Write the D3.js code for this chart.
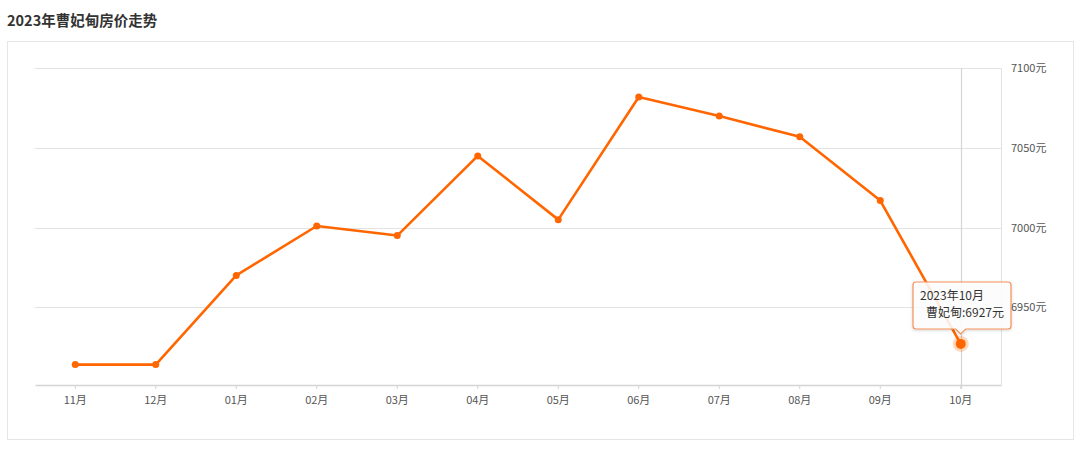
<!DOCTYPE html>
<html>
<head>
<meta charset="utf-8">
<script src="https://cdn.jsdelivr.net/npm/d3@7"></script>
<style>
  html, body { margin: 0; padding: 0; background: #fff; }
  svg { display: block; font-family: "Noto Sans CJK SC", "Noto Sans", sans-serif; }
</style>
</head>
<body>
<svg id="chart" width="1080" height="450"></svg>
<script>
const title = "2023年曹妃甸房价走势";
const seriesName = "曹妃甸";
const months = ["11月","12月","01月","02月","03月","04月","05月","06月","07月","08月","09月","10月"];
const prices = [6914, 6914, 6970, 7001, 6995, 7045, 7005, 7082, 7070, 7057, 7017, 6927];
const yTicks = [6950, 7000, 7050, 7100];
const tooltipTitle = "2023年10月";
const highlightIndex = 11;

(function () {
const svg = d3.select("#chart");
const orange = "#ff6600";

svg.append("text").attr("x", 7).attr("y", 26)
  .attr("font-size", 14.5).attr("font-weight", "bold").attr("fill", "#333")
  .text(title);

svg.append("rect").attr("x", 7.5).attr("y", 41.5).attr("width", 1066).attr("height", 398)
  .attr("fill", "#fff").attr("stroke", "#e6e6e6");

const gLeft = 35, gRight = 1001, gTop = 68.3, gBottom = 385;
const x = d3.scaleBand().domain(months).range([gLeft, gRight]);
const y = d3.scaleLinear().domain([6901.2, 7100]).range([gBottom, gTop]);
const cx = i => x(months[i]) + x.bandwidth() / 2;

svg.append("g").selectAll("line").data(yTicks).join("line")
  .attr("x1", gLeft).attr("x2", gRight)
  .attr("y1", d => Math.round(y(d)) + 0.5).attr("y2", d => Math.round(y(d)) + 0.5)
  .attr("stroke", "#e3e3e3");

svg.append("line").attr("x1", gRight + 0.5).attr("x2", gRight + 0.5)
  .attr("y1", gTop).attr("y2", gBottom).attr("stroke", "#e0e0e0");

svg.append("g").selectAll("text").data(yTicks).join("text")
  .attr("x", 1011).attr("y", d => y(d) + 4)
  .attr("font-size", 11).attr("fill", "#555")
  .text(d => d + "元");

const hx = cx(highlightIndex);
svg.append("line").attr("x1", Math.round(hx) + 0.5).attr("x2", Math.round(hx) + 0.5)
  .attr("y1", gTop).attr("y2", gBottom + 4).attr("stroke", "#d6d6d6").attr("stroke-width", 1.2);

const xAxis = svg.append("g").attr("transform", `translate(0,${gBottom})`)
  .call(d3.axisBottom(x).tickSizeInner(4).tickSizeOuter(0).tickPadding(7));
xAxis.select(".domain").attr("stroke", "#d4d4d4").attr("stroke-width", 1.5);
xAxis.selectAll(".tick line").attr("stroke", "#d4d4d4");
xAxis.selectAll(".tick text").attr("font-size", 11).attr("fill", "#555")
  .attr("font-family", "\"Noto Sans CJK SC\", sans-serif");

const line = d3.line().x((d, i) => cx(i)).y(d => y(d));
svg.append("path").datum(prices).attr("d", line)
  .attr("fill", "none").attr("stroke", orange).attr("stroke-width", 2.6)
  .attr("stroke-linejoin", "round");

svg.append("g").selectAll("circle").data(d3.range(prices.length).filter(i => i !== highlightIndex)).join("circle")
  .attr("cx", i => cx(i)).attr("cy", i => y(prices[i])).attr("r", 3.5).attr("fill", orange);

const hy = y(prices[highlightIndex]);
svg.append("circle").attr("cx", hx).attr("cy", hy).attr("r", 8)
  .attr("fill", orange).attr("fill-opacity", 0.25);
svg.append("circle").attr("cx", hx).attr("cy", hy).attr("r", 5).attr("fill", orange);

const tx = 913, ty = 282, tw = 98, th = 47;
const defs = svg.append("defs");
const f = defs.append("filter").attr("id", "sh").attr("x", "-20%").attr("y", "-20%").attr("width", "140%").attr("height", "150%");
f.append("feDropShadow").attr("dx", 0).attr("dy", 1).attr("stdDeviation", 1.5)
  .attr("flood-color", "#000").attr("flood-opacity", 0.18);
const tip = svg.append("g");
const ax = hx;
const p = `M${tx + 3},${ty} H${tx + tw - 3} Q${tx + tw},${ty} ${tx + tw},${ty + 3} V${ty + th - 3} Q${tx + tw},${ty + th} ${tx + tw - 3},${ty + th}
  H${ax + 5} L${ax},${ty + th + 5} L${ax - 5},${ty + th} H${tx + 3} Q${tx},${ty + th} ${tx},${ty + th - 3} V${ty + 3} Q${tx},${ty} ${tx + 3},${ty} Z`;
tip.append("path").attr("d", p).attr("fill", "rgba(255,255,255,0.86)")
  .attr("stroke", "#f3925a").attr("stroke-width", 1.2).attr("filter", "url(#sh)");
tip.append("text").attr("x", 920).attr("y", 300).attr("font-size", 12).attr("fill", "#333")
  .text(tooltipTitle);
tip.append("text").attr("x", 1004).attr("y", 317).attr("text-anchor", "end")
  .attr("font-size", 12).attr("fill", "#333")
  .text(seriesName + ":" + prices[highlightIndex] + "元");
})();
</script>
</body>
</html>
